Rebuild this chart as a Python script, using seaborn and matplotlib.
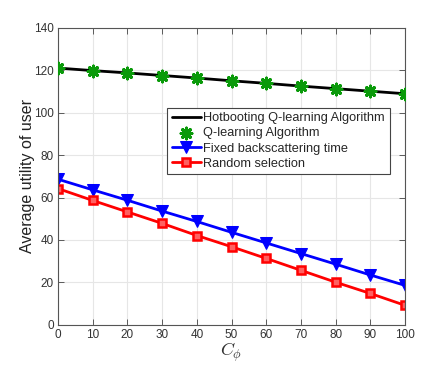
import pandas as pd
import matplotlib
matplotlib.use('Agg')
import matplotlib.pyplot as plt
import seaborn as sns

# --- data ---
c_phi = [0, 10, 20, 30, 40, 50, 60, 70, 80, 90, 100]
hotbooting = [121.0, 119.8, 118.7, 117.5, 116.3, 115.0, 113.8, 112.5, 111.3, 110.1, 108.9]
qlearning = [120.9, 119.8, 118.7, 117.4, 116.2, 114.9, 113.8, 112.5, 111.3, 110.2, 108.9]
fixed_bs = [68.6, 63.6, 58.7, 53.6, 48.7, 43.6, 38.6, 33.6, 28.6, 23.5, 18.6]
random_sel = [64.2, 58.6, 53.2, 47.8, 42.1, 36.8, 31.3, 25.7, 20.1, 14.8, 9.2]

labels = ['Hotbooting Q-learning Algorithm', 'Q-learning Algorithm',
          'Fixed backscattering time', 'Random selection']
y_ticks = [0, 20, 40, 60, 80, 100, 120, 140]

hot_df = pd.DataFrame({'C': c_phi, 'utility': hotbooting})
q_df = pd.DataFrame({'C': c_phi, 'utility': qlearning})
fix_df = pd.DataFrame({'C': c_phi, 'utility': fixed_bs})
rnd_df = pd.DataFrame({'C': c_phi, 'utility': random_sel})

sns.set_style('whitegrid')
plt.rcParams['font.family'] = ['Liberation Sans', 'DejaVu Sans']
plt.rcParams['mathtext.fontset'] = 'cm'

fig = plt.figure(figsize=(4.47, 3.65), dpi=100)
ax = fig.add_axes([0.130, 0.110, 0.776, 0.814])

sns.lineplot(x='C', y='utility', data=hot_df, ax=ax, color='black', linewidth=2.0,
             label=labels[0])
sns.scatterplot(x='C', y='utility', data=q_df, ax=ax, color='#0a9a0a', marker=(8, 2, 0),
                s=60, linewidth=2.2, edgecolor='#0a9a0a', label=labels[1], zorder=3)
sns.lineplot(x='C', y='utility', data=fix_df, ax=ax, color='blue', linewidth=2.0,
             marker='v', markersize=8, markeredgecolor='blue', label=labels[2])
sns.lineplot(x='C', y='utility', data=rnd_df, ax=ax, color='red', linewidth=2.0,
             marker='s', markersize=6, markeredgewidth=1.8, markerfacecolor='#ff6060',
             markeredgecolor='red', label=labels[3])

ax.set_xlim(0, 100)
ax.set_ylim(0, 140)
ax.set_xticks(c_phi)
ax.set_yticks(y_ticks)
ax.grid(True, color='#e6e6e6', linewidth=0.8)
for sp in ax.spines.values():
    sp.set_visible(True)
    sp.set_color('#555555')
    sp.set_linewidth(0.8)
ax.tick_params(direction='in', length=4, width=0.6, colors='#444444', labelsize=8.5,
               top=True, right=True, bottom=True, left=True, pad=3)
for t in ax.get_xticklabels() + ax.get_yticklabels():
    t.set_color('#333333')

ax.set_xlabel(r'$C_{\phi}$', fontsize=13, color='#333333', labelpad=0)
ax.set_ylabel('Average utility of user', fontsize=11.5, color='#222222', labelpad=-1)

leg = ax.legend(loc='upper left', bbox_to_anchor=(0.314, 0.731), fontsize=9.2,
                frameon=True, fancybox=False, edgecolor='#444444', framealpha=1,
                handlelength=2.3, handletextpad=0.2, borderpad=0.35, labelspacing=0.25,
                borderaxespad=0)
leg.get_frame().set_linewidth(0.8)

fig.savefig('out.png', dpi=100)
